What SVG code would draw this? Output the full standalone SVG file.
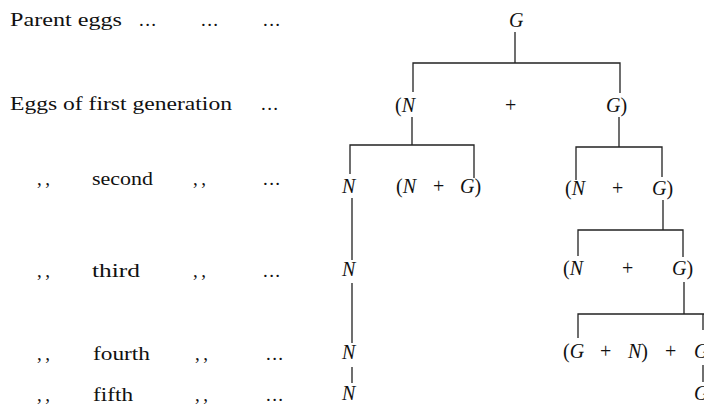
<svg xmlns="http://www.w3.org/2000/svg" width="704" height="405" viewBox="0 0 704 405">
<style>
text{font-family:"Liberation Serif","DejaVu Serif","Times New Roman",serif;fill:#111}
.lab{font-size:19px}
.rm{font-size:20px}
.it{font-style:italic}
.con{fill:none;stroke:#222;stroke-width:1.3}
</style>
<rect width="704" height="405" fill="#fff"/>
<g id="labels">
<text class="lab" x="10" y="26" textLength="112" lengthAdjust="spacingAndGlyphs">Parent eggs</text>
<text class="lab" x="139" y="26" textLength="17" lengthAdjust="spacing">...</text>
<text class="lab" x="201" y="26" textLength="17" lengthAdjust="spacing">...</text>
<text class="lab" x="263" y="26" textLength="17" lengthAdjust="spacing">...</text>
<text class="lab" x="10" y="110" textLength="222" lengthAdjust="spacingAndGlyphs">Eggs of first generation</text>
<text class="lab" x="261" y="110" textLength="17" lengthAdjust="spacing">...</text>
<text class="lab" x="37" y="185" textLength="13" lengthAdjust="spacing">,,</text>
<text class="lab" x="92" y="185" textLength="61" lengthAdjust="spacingAndGlyphs">second</text>
<text class="lab" x="193" y="185" textLength="13" lengthAdjust="spacing">,,</text>
<text class="lab" x="263" y="185" textLength="17" lengthAdjust="spacing">...</text>
<text class="lab" x="37" y="277" textLength="13" lengthAdjust="spacing">,,</text>
<text class="lab" x="92" y="277" textLength="48" lengthAdjust="spacingAndGlyphs">third</text>
<text class="lab" x="193" y="277" textLength="13" lengthAdjust="spacing">,,</text>
<text class="lab" x="263" y="277" textLength="17" lengthAdjust="spacing">...</text>
<text class="lab" x="37" y="360" textLength="13" lengthAdjust="spacing">,,</text>
<text class="lab" x="93" y="360" textLength="57" lengthAdjust="spacingAndGlyphs">fourth</text>
<text class="lab" x="195" y="360" textLength="13" lengthAdjust="spacing">,,</text>
<text class="lab" x="266" y="360" textLength="17" lengthAdjust="spacing">...</text>
<text class="lab" x="37" y="401" textLength="13" lengthAdjust="spacing">,,</text>
<text class="lab" x="93" y="401" textLength="40" lengthAdjust="spacingAndGlyphs">fifth</text>
<text class="lab" x="195" y="401" textLength="13" lengthAdjust="spacing">,,</text>
<text class="lab" x="266" y="401" textLength="17" lengthAdjust="spacing">...</text>
</g>
<g id="connectors">
<path class="con" d="M515,32 V63 M413,92 V63 H620 V93"/>
<path class="con" d="M412,117 V145 M350,174 V145 H474 V178"/>
<path class="con" d="M619,117 V147 M576,180 V147 H662 V177"/>
<path class="con" d="M352,198 V260 M352,283 V343 M352,367 V383"/>
<path class="con" d="M663,200 V230 M578,256 V230 H683 V257"/>
<path class="con" d="M684,282 V314 M578,338 V314 H704 M703,314 V330"/>
<path class="con" d="M703,365 V382"/>
</g>
<g id="node-parent"><text class="rm it" x="509" y="27">G</text></g>
<g id="node-gen1">
<text class="rm" x="395" y="112">(<tspan class="it">N</tspan></text>
<text class="rm" x="505" y="112">+</text>
<text class="rm" x="606" y="112"><tspan class="it">G</tspan>)</text>
</g>
<g id="node-gen2-n"><text class="rm it" x="342" y="193">N</text></g>
<g id="node-gen2-mid">
<text class="rm" x="396" y="193">(<tspan class="it">N</tspan></text>
<text class="rm" x="433" y="193">+</text>
<text class="rm" x="460" y="193"><tspan class="it">G</tspan>)</text>
</g>
<g id="node-gen2-right">
<text class="rm" x="565" y="195">(<tspan class="it">N</tspan></text>
<text class="rm" x="612" y="195">+</text>
<text class="rm" x="652" y="195"><tspan class="it">G</tspan>)</text>
</g>
<g id="node-gen3-n"><text class="rm it" x="342" y="276">N</text></g>
<g id="node-gen3-right">
<text class="rm" x="563" y="275">(<tspan class="it">N</tspan></text>
<text class="rm" x="622" y="275">+</text>
<text class="rm" x="672" y="275"><tspan class="it">G</tspan>)</text>
</g>
<g id="node-gen4-n"><text class="rm it" x="342" y="359">N</text></g>
<g id="node-gen4-right">
<text class="rm" x="563" y="358">(<tspan class="it">G</tspan></text>
<text class="rm" x="600" y="358">+</text>
<text class="rm" x="628" y="358"><tspan class="it">N</tspan>)</text>
<text class="rm" x="665" y="358">+</text>
<text class="rm it" x="694" y="358">G</text>
</g>
<g id="node-gen5-n"><text class="rm it" x="342" y="400">N</text></g>
<g id="node-gen5-g"><text class="rm it" x="694" y="400">G</text></g>
</svg>
